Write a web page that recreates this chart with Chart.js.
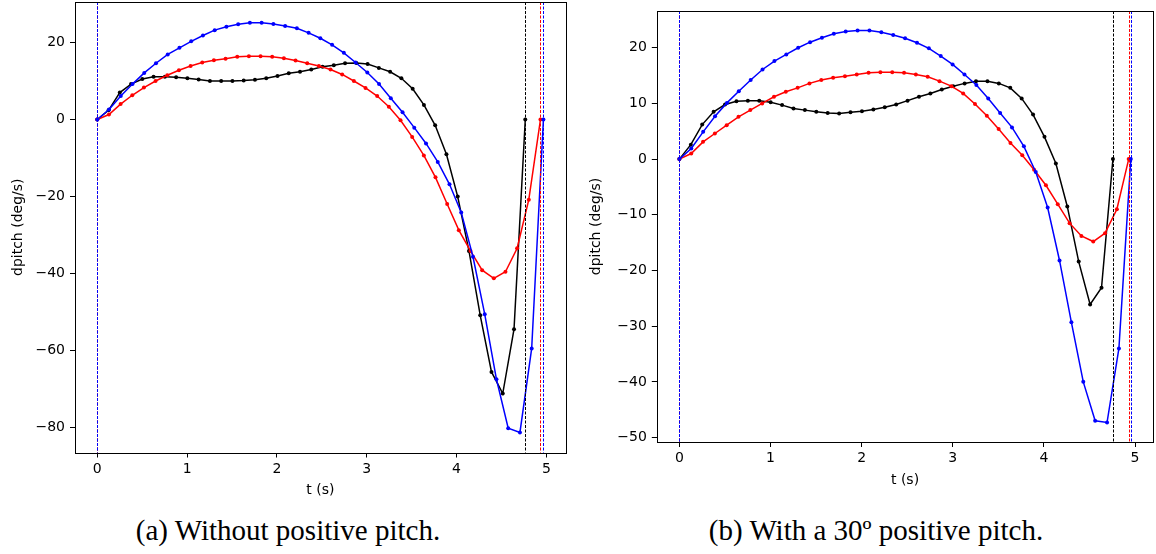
<!DOCTYPE html>
<html>
<head>
<meta charset="utf-8">
<script src="https://cdn.jsdelivr.net/npm/chart.js@4.4.1/dist/chart.umd.min.js"></script>
<style>
  html, body { margin: 0; padding: 0; background: #fff; }
  body { width: 1156px; height: 554px; position: relative; overflow: hidden; }
  .panel { position: absolute; top: 0; }
  .caption { position: absolute; top: 516px; width: 576px; text-align: center;
             font-family: "Liberation Serif", serif; font-size: 29px; line-height: 29px;
             color: #000; white-space: nowrap; }
</style>
</head>
<body>
<div class="panel" style="left:0"><canvas id="chartA" width="580" height="500"></canvas></div>
<div class="panel" style="left:580px"><canvas id="chartB" width="576" height="500"></canvas></div>
<div class="caption" style="left:0">(a) Without positive pitch.</div>
<div class="caption" style="left:588px">(b) With a 30º positive pitch.</div>
<script>
// each run is 39 samples, evenly spaced from t = 0 to its end time
const xTicks = [0, 1, 2, 3, 4, 5];

// (a) without positive pitch
const aEndTimes = [4.765, 4.934, 4.967]; // black, red, blue
const aBlack = [0, 2.4, 7.0, 9.2, 10.5, 11.1, 11.1, 11.0, 10.7, 10.4, 10.0, 10.0, 10.0, 10.1, 10.3, 10.7, 11.3, 12.0, 12.4, 13.0,
                13.7, 14.1, 14.6, 14.7, 14.4, 13.4, 12.4, 10.7, 8.0, 3.8, -1.5, -9.0, -20.0, -34.1, -50.8, -65.5, -71.1, -54.4, 0];
const aRed = [0, 1.3, 4.0, 6.3, 8.3, 10.0, 11.5, 12.8, 13.9, 14.8, 15.4, 15.8, 16.3, 16.4, 16.4, 16.3, 15.9, 15.3, 14.6, 13.9,
              13.0, 11.7, 10.0, 8.2, 6.1, 3.3, -0.2, -4.5, -9.3, -15.0, -21.9, -28.7, -34.1, -39.1, -41.2, -39.5, -33.4, -20.8, 0];
const aBlue = [0, 2.6, 6.1, 9.2, 12.1, 14.6, 16.9, 18.6, 20.3, 21.8, 23.2, 24.1, 24.7, 25.1, 25.1, 24.8, 24.3, 23.7, 22.5, 21.1,
               19.4, 17.3, 14.8, 12.2, 9.2, 5.5, 1.9, -2.1, -6.2, -11.0, -16.8, -24.1, -35.6, -50.5, -67.4, -80.1, -81.2, -59.4, 0];
const aYTicks = [-80, -60, -40, -20, 0, 20];

// (b) with a 30 deg positive pitch
const bEndTimes = [4.757, 4.930, 4.953];
const bBlack = [0, 2.6, 6.2, 8.5, 9.8, 10.4, 10.5, 10.5, 10.2, 9.7, 9.1, 8.8, 8.5, 8.3, 8.2, 8.4, 8.6, 8.9, 9.3, 9.8,
                10.5, 11.2, 11.8, 12.5, 13.1, 13.6, 14.0, 14.0, 13.6, 12.8, 10.9, 8.0, 4.0, -0.8, -8.5, -18.4, -26.1, -23.1, 0];
const bRed = [0, 1.0, 3.1, 4.6, 6.1, 7.6, 8.8, 10.0, 11.2, 12.1, 12.8, 13.6, 14.2, 14.6, 14.9, 15.2, 15.5, 15.6, 15.6, 15.5,
              15.2, 14.8, 14.0, 13.1, 11.8, 9.9, 7.8, 5.4, 2.9, 0.7, -1.9, -4.7, -8.1, -11.5, -13.8, -14.8, -13.3, -9.0, 0];
const bBlue = [0, 1.9, 4.9, 7.7, 10.1, 12.2, 14.2, 16.1, 17.6, 18.8, 20.0, 21.0, 21.8, 22.5, 22.9, 23.1, 23.1, 22.8, 22.3, 21.7,
               20.9, 19.9, 18.5, 17.0, 15.2, 13.3, 10.9, 8.3, 5.7, 2.3, -2.3, -8.7, -18.2, -29.3, -40.0, -47.0, -47.3, -34.0, 0];
const bYTicks = [-50, -40, -30, -20, -10, 0, 10, 20];

const colors = ['#000000', '#ff0000', '#0000ff'];
const FONT = 'DejaVu Sans';

function toPoints(end, values) {
    // sample grid for one run: t_i = i * end / (n - 1)
    const n = values.length;
    return values.map((v, i) => ({ x: end * i / (n - 1), y: v }));
}

function tickText(v) {
    return v < 0 ? '\u2212' + Math.abs(v) : String(v);
}

// box around the axes + dashed markers at the start/end of every run
const framePlugin = {
    id: 'frame',
    afterDatasetsDraw(chart, args, opts) {
        const { ctx, chartArea: a } = chart;
        const xs = chart.scales.x;
        ctx.save();
        ctx.lineWidth = 1;
        ctx.setLineDash([3, 1.5]);
        opts.ends.forEach((end, k) => {
            ctx.strokeStyle = colors[k];
            [0, end].forEach(t => {
                const px = Math.round(xs.getPixelForValue(t)) + 0.5;
                ctx.beginPath();
                ctx.moveTo(px, a.top);
                ctx.lineTo(px, a.bottom);
                ctx.stroke();
            });
        });
        ctx.setLineDash([]);
        ctx.strokeStyle = '#000';
        ctx.lineWidth = 1;
        const l = Math.round(a.left) + 0.5, t = Math.round(a.top) + 0.5;
        const r = Math.round(a.right) + 0.5, b = Math.round(a.bottom) + 0.5;
        ctx.strokeRect(l, t, r - l, b - t);
        ctx.restore();
    }
};

function makeChart(id, ends, series, yTicks, lim, box) {
    const names = ['black', 'red', 'blue'];
    const datasets = series.map((vals, k) => ({
        label: names[k],
        data: toPoints(ends[k], vals),
        borderColor: colors[k],
        backgroundColor: colors[k],
        pointBackgroundColor: colors[k],
        borderWidth: 1.5,
        pointRadius: 2,
        pointBorderWidth: 0,
        tension: 0,
        fill: false,
        order: 2 - k  // blue drawn on top
    }));
    const grid = { drawOnChartArea: false, drawTicks: true, tickLength: 5, color: '#000', lineWidth: 1 };
    const tickFont = { family: FONT, size: 14 };
    return new Chart(document.getElementById(id), {
        type: 'line',
        data: { datasets },
        options: {
            responsive: false,
            animation: false,
            devicePixelRatio: 1,
            layout: { autoPadding: false, padding: box.padding },
            plugins: { legend: { display: false }, tooltip: { enabled: false }, frame: { ends } },
            scales: {
                x: {
                    type: 'linear', min: lim.x[0], max: lim.x[1],
                    grid, border: { display: false },
                    ticks: { color: '#000', font: tickFont, autoSkip: false, maxRotation: 0, padding: 3,
                             callback: v => tickText(v) },
                    afterBuildTicks: s => { s.ticks = xTicks.map(v => ({ value: v })); },
                    afterFit: s => { s.height = box.xHeight; s.paddingLeft = 0; s.paddingRight = 0; },
                    title: { display: true, text: 't (s)', color: '#000', font: tickFont,
                             padding: { top: 0, bottom: 0 } }
                },
                y: {
                    type: 'linear', min: lim.y[0], max: lim.y[1],
                    grid, border: { display: false },
                    ticks: { color: '#000', font: tickFont, autoSkip: false, padding: 5,
                             callback: v => tickText(v) },
                    afterBuildTicks: s => { s.ticks = yTicks.map(v => ({ value: v })); },
                    afterFit: s => { s.width = box.yWidth; s.paddingTop = 0; s.paddingBottom = 0; },
                    title: { display: true, text: 'dpitch (deg/s)', color: '#000', font: tickFont,
                             padding: { top: box.yTitlePad, bottom: 0 } }
                }
            }
        },
        plugins: [framePlugin]
    });
}

makeChart('chartA', aEndTimes, [aBlack, aRed, aBlue], aYTicks,
    { x: [-0.248, 5.215], y: [-86.4, 30.5] },
    { padding: { left: 0, top: 2, right: 14.3, bottom: 1.6 }, xHeight: 45.9, yWidth: 75, yTitlePad: 10 });

makeChart('chartB', bEndTimes, [bBlack, bRed, bBlue], bYTicks,
    { x: [-0.248, 5.2], y: [-50.8, 26.6] },
    { padding: { left: 0, top: 11, right: 2.7, bottom: 11.6 }, xHeight: 46.4, yWidth: 76.8, yTitlePad: 8 });
</script>
</body>
</html>
